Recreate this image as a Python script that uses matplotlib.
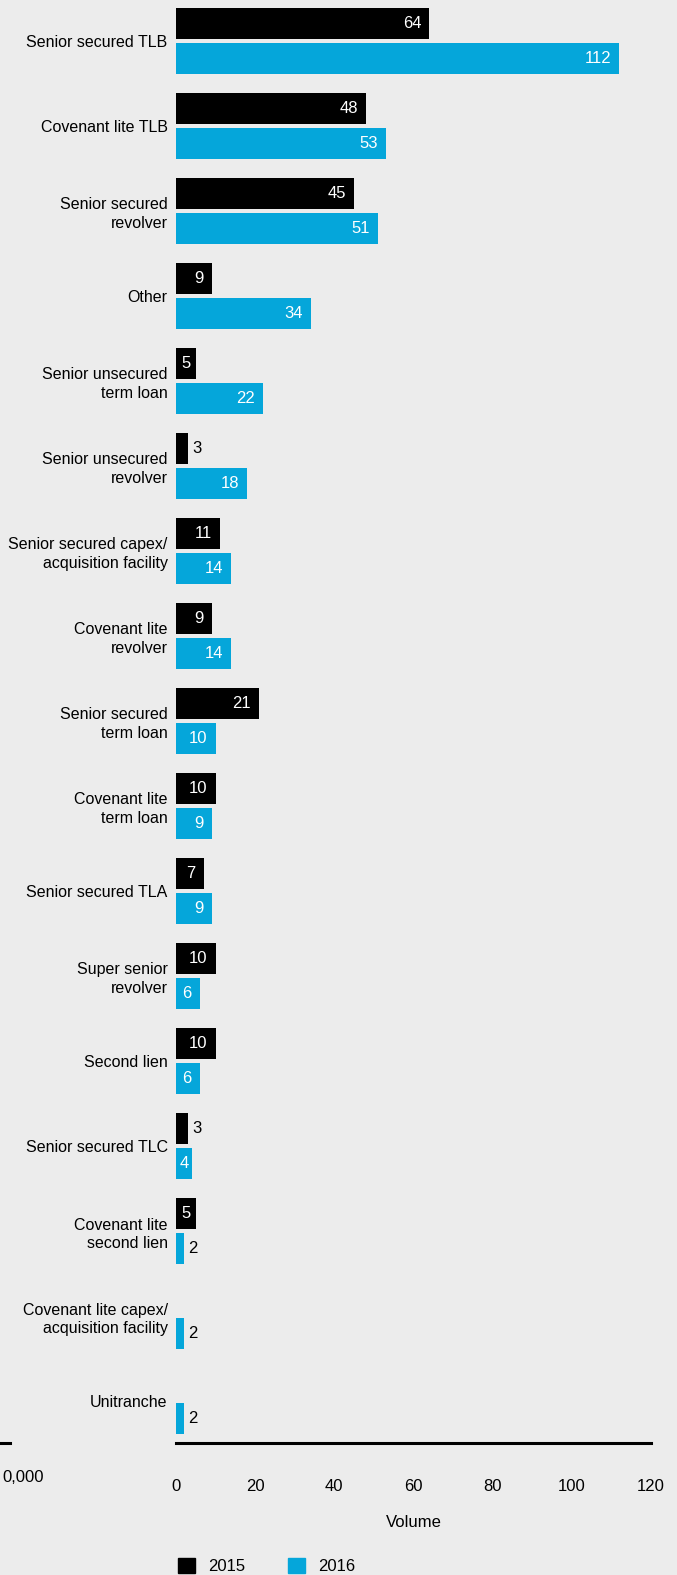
import matplotlib.pyplot as plt
import numpy as np
from matplotlib.lines import Line2D
from matplotlib.patches import Patch

categories = ["Senior secured TLB", "Covenant lite TLB", "Senior secured\nrevolver", "Other",
              "Senior unsecured\nterm loan", "Senior unsecured\nrevolver",
              "Senior secured capex/\nacquisition facility", "Covenant lite\nrevolver",
              "Senior secured\nterm loan", "Covenant lite\nterm loan", "Senior secured TLA",
              "Super senior\nrevolver", "Second lien", "Senior secured TLC",
              "Covenant lite\nsecond lien", "Covenant lite capex/\nacquisition facility", "Unitranche"]
vol_2015 = [64, 48, 45, 9, 5, 3, 11, 9, 21, 10, 7, 10, 10, 3, 5, None, None]
vol_2016 = [112, 53, 51, 34, 22, 18, 14, 14, 10, 9, 9, 6, 6, 4, 2, 2, 2]
x_ticks = [0, 20, 40, 60, 80, 100, 120]

bg = '#ececec'
blue = '#05a6da'
font = ['Liberation Sans', 'DejaVu Sans']
narrow = ['Liberation Sans Narrow', 'Liberation Sans', 'DejaVu Sans']

W, H = 677, 1575
fig = plt.figure(figsize=(W / 100, H / 100), dpi=100, facecolor=bg)
ax = fig.add_axes([176 / W, (H - 1443) / H, (651 - 176) / W, 1443 / H], facecolor=bg)

y = np.arange(len(categories))
off = 0.206
h = 0.365
v15 = np.array([np.nan if v is None else v for v in vol_2015], dtype=float)
v16 = np.array(vol_2016, dtype=float)
ax.barh(y - off, np.nan_to_num(v15), height=h, color='black')
ax.barh(y + off, v16, height=h, color=blue)


def label(vals, ys):
    for v, yy in zip(vals, ys):
        if np.isnan(v):
            continue
        if v > 5:
            ax.text(v - 2.0, yy, f"{int(v)}", ha='right', va='center', color='white',
                    fontsize=12, family=narrow)
        elif v >= 4:
            ax.text(v / 2, yy, f"{int(v)}", ha='center', va='center', color='white',
                    fontsize=12, family=narrow)
        else:
            ax.text(v + 1.1, yy, f"{int(v)}", ha='left', va='center', color='black',
                    fontsize=12, family=narrow)


label(v15, y - off)
label(v16, y + off)

ax.set_xlim(0, 120)
ax.set_ylim(16.494, -0.482)
ax.set_yticks(y)
ax.set_yticklabels(categories, family=font, fontsize=11.5, linespacing=1.3)
ax.set_xticks(x_ticks)
ax.set_xticklabels([str(t) for t in x_ticks], family=narrow, fontsize=12)
ax.tick_params(axis='y', length=0, pad=6)
ax.tick_params(axis='x', length=0, pad=26)
for s in ['top', 'right', 'left']:
    ax.spines[s].set_visible(False)
ax.spines['bottom'].set_linewidth(2.2)
ax.set_xlabel('Volume', family=narrow, fontsize=12, labelpad=15)

# cut-off neighbour chart at left edge
fig.add_artist(Line2D([0, 10 / W], [(H - 1443) / H] * 2, color='black', lw=2.2))
fig.text(2 / W, (H - 1478) / H, '0,000', ha='left', va='center', family=narrow, fontsize=12)

handles = [Patch(color='black'), Patch(color=blue)]
fig.legend(handles, ['2015', '2016'], loc='upper left', bbox_to_anchor=(163 / W, (H - 1543) / H),
           ncol=2, frameon=False, handlelength=1.0, handleheight=1.0, handletextpad=0.8,
           columnspacing=2.6, prop={'family': narrow, 'size': 12})

fig.savefig('out.png', dpi=100, facecolor=bg)
